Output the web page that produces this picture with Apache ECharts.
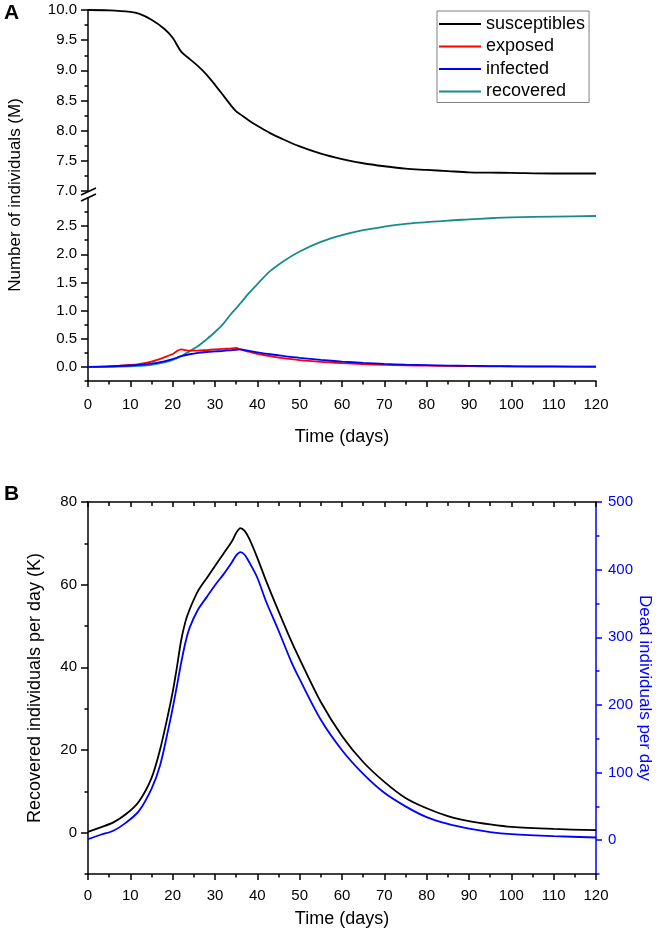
<!DOCTYPE html>
<html><head><meta charset="utf-8">
<script src="https://cdn.jsdelivr.net/npm/echarts@6/dist/echarts.min.js"></script>
<style>html,body{margin:0;padding:0;background:#fff}#c{width:661px;height:936px}</style>
</head><body><div id="c"></div>
<script>
// ---- Panel A data (millions) ----
const daysA = [0,5,10,12,15,18,20,22,24,26,28,30,32,34,35,36,38,40,43,46,50,55,60,65,70,75,80,85,90,95,100,110,120];
const susceptibles = [10.00,9.995,9.97,9.94,9.84,9.69,9.54,9.31,9.19,9.07,8.93,8.76,8.58,8.40,8.32,8.27,8.17,8.08,7.96,7.86,7.74,7.62,7.53,7.46,7.41,7.37,7.35,7.33,7.31,7.305,7.30,7.29,7.29];
const exposed = [0,0.01,0.035,0.05,0.095,0.17,0.23,0.31,0.29,0.29,0.30,0.31,0.32,0.33,0.34,0.31,0.27,0.23,0.19,0.155,0.12,0.09,0.068,0.05,0.037,0.028,0.022,0.017,0.013,0.01,0.008,0.005,0.003];
const infected = [0,0.008,0.025,0.035,0.06,0.10,0.14,0.19,0.225,0.25,0.265,0.275,0.285,0.30,0.305,0.31,0.285,0.26,0.225,0.195,0.16,0.125,0.095,0.072,0.053,0.04,0.031,0.024,0.019,0.015,0.012,0.008,0.006];
const recovered = [0,0.003,0.012,0.018,0.035,0.08,0.125,0.19,0.28,0.37,0.49,0.62,0.77,0.96,1.04,1.13,1.31,1.47,1.70,1.87,2.05,2.22,2.34,2.43,2.49,2.54,2.57,2.60,2.62,2.64,2.655,2.67,2.68];

// ---- Panel B data ----
const daysB = [0,3,6,9,12,15,17,19,20,21,22,23,24,26,28,30,32,34,35,36,37,38,40,42,45,48,50,55,60,65,70,75,80,85,90,95,100,110,120];
const recoveredPerDayK = [0.2,1.3,2.5,4.5,7.5,13.2,20,29,34,40,46.5,51,54,58.5,61.5,64.5,67.5,70.5,72.5,73.7,73,71.3,66.5,61.1,53.6,46.4,42.0,31.6,23.4,17.1,12.3,8.4,5.9,4.0,2.8,2.0,1.4,0.9,0.6];
const deadPerDay = [1.5,8,14,26,43,76,110,165,195,228,262,292,314,341,359,377,393,411,421,426,422,412,388,354,310,264,238,178,133,98,70,50,34,24,17,12,9,6,4];

// ---- tick values ----
const lowerYTicks = [0,0.5,1.0,1.5,2.0,2.5];
const lowerYMinor = [-0.25,0.25,0.75,1.25,1.75,2.25,2.75];
const leftBTicks = [0,20,40,60,80];
const leftBMinor = [-10,10,30,50,70];
const rightBTicks = [0,100,200,300,400,500];
const rightBMinor = [-50,50,150,250,350,450];
const seriesNames = ['susceptibles','exposed','infected','recovered'];

const FONT = 'Liberation Sans, Arial, sans-serif';
const BLUE = '#0000ff';
const TEAL = '#178c8c';
const LW = 1.8;
function pairs(xs, ys){ return xs.map((x,i)=>[x, ys[i]]); }
function lineStyleAxis(c){ return {color:c||'#000', width:1.5}; }

function xAx(grid, opts){
  return Object.assign({
    type:'value', gridIndex:grid, min:0, max:120, interval:10,
    axisLine:{show:true, onZero:false, lineStyle:lineStyleAxis()},
    axisTick:{show:true, length:6, lineStyle:lineStyleAxis()},
    minorTick:{show:true, splitNumber:2, length:3.5, lineStyle:lineStyleAxis()},
    splitLine:{show:false}, minorSplitLine:{show:false},
    axisLabel:{fontSize:15, color:'#000', margin:14, fontFamily:FONT},
    nameMoveOverlap:false
  }, opts);
}
function yAx(grid, min, max, ticks, len, color, extra){
  return Object.assign({
    type:'value', gridIndex:grid, min:min, max:max,
    axisLine:{show:true, onZero:false, lineStyle:lineStyleAxis(color)},
    axisTick:{show:true, length:len, customValues:ticks, lineStyle:lineStyleAxis(color)},
    splitLine:{show:false},
    axisLabel:{show:true, customValues:ticks, fontSize:15, color:color||'#000', margin:11, fontFamily:FONT},
    nameMoveOverlap:false
  }, extra||{});
}
function minorY(grid, min, max, ticks, color, pos){
  return {
    type:'value', gridIndex:grid, min:min, max:max, position:pos,
    axisLine:{show:false, onZero:false},
    axisTick:{show:true, length:3.5, customValues:ticks, lineStyle:lineStyleAxis(color)},
    splitLine:{show:false},
    axisLabel:{show:false}
  };
}
function hiddenX(grid){ return {type:'value', gridIndex:grid, min:0, max:120, show:false}; }

const rectLowerA = {left:88, right:65, top:198, height:183, outerBoundsMode:'none'};
const rectB = {left:88, right:65, top:502, height:372, outerBoundsMode:'none'};

const chart = echarts.init(document.getElementById('c'), null, {renderer:'canvas'});
const option = {
  animation:false,
  backgroundColor:'#fff',
  textStyle:{fontFamily:FONT},
  grid:[
    {left:88, right:65, top:10, height:181, outerBoundsMode:'none'},
    rectLowerA,
    rectB,
    Object.assign({}, rectLowerA),
    Object.assign({}, rectB)
  ],
  legend:{
    data:seriesNames, orient:'vertical', left:437, top:11,
    icon:'rect', itemWidth:42, itemHeight:2, itemGap:2.5,
    padding:[3,4,1,2], borderColor:'#808080', borderWidth:1,
    textStyle:{fontSize:18, lineHeight:20, color:'#000', fontFamily:FONT},
    selectedMode:false
  },
  xAxis:[
    hiddenX(0),
    xAx(1, {position:'bottom', name:'Time (days)', nameLocation:'middle', nameGap:47,
      axisLabel:{fontSize:15, color:'#000', margin:16, fontFamily:FONT},
      nameTextStyle:{fontSize:18, color:'#000', fontFamily:FONT}}),
    xAx(2, {position:'bottom', name:'Time (days)', nameLocation:'middle', nameGap:36,
      nameTextStyle:{fontSize:18, color:'#000', fontFamily:FONT}}),
    xAx(2, {position:'top', axisLabel:{show:false},
      axisTick:{show:true, inside:true, length:5, lineStyle:lineStyleAxis()},
      minorTick:{show:true, splitNumber:2, length:4, lineStyle:lineStyleAxis()}}),
    hiddenX(3),
    hiddenX(4)
  ],
  yAxis:[
    // upper panel A: 7.0 - 10.0
    {type:'value', gridIndex:0, min:7, max:10, interval:0.5,
      axisLine:{show:true, onZero:false, lineStyle:lineStyleAxis()},
      axisTick:{show:true, length:7, lineStyle:lineStyleAxis()},
      minorTick:{show:true, splitNumber:2, length:3.5, lineStyle:lineStyleAxis()},
      splitLine:{show:false}, minorSplitLine:{show:false},
      axisLabel:{fontSize:15, color:'#000', margin:11, fontFamily:FONT, formatter:v=>v.toFixed(1)}},
    // lower panel A
    yAx(1, -0.25, 3.0, lowerYTicks, 7, '#000', {position:'left',
      axisLabel:{customValues:lowerYTicks, fontSize:15, color:'#000', margin:11, fontFamily:FONT, formatter:v=>v.toFixed(1)}}),
    // panel B left
    yAx(2, -10, 80, leftBTicks, 7, '#000', {position:'left', name:'Recovered individuals per day (K)',
      nameLocation:'middle', nameGap:44, nameRotate:90,
      nameTextStyle:{fontSize:18, color:'#000', fontFamily:FONT}}),
    // panel B right
    yAx(2, -50, 500, rightBTicks, 6, BLUE, {position:'right', name:'Dead individuals per day',
      nameLocation:'middle', nameGap:40, nameRotate:-90,
      axisLabel:{customValues:rightBTicks, fontSize:15, color:BLUE, margin:12, fontFamily:FONT},
      nameTextStyle:{fontSize:17, color:BLUE, fontFamily:FONT}}),
    // minor tick overlays (own grids with identical rects)
    minorY(3, -0.25, 3.0, lowerYMinor, '#000', 'left'),
    minorY(4, -10, 80, leftBMinor, '#000', 'left'),
    minorY(4, -50, 500, rightBMinor, BLUE, 'right')
  ],
  series:[
    {name:'susceptibles', type:'line', xAxisIndex:0, yAxisIndex:0, data:pairs(daysA, susceptibles),
      showSymbol:false, smooth:0.3, color:'#000', lineStyle:{color:'#000', width:LW}},
    {name:'recovered', type:'line', xAxisIndex:1, yAxisIndex:1, data:pairs(daysA, recovered),
      showSymbol:false, smooth:0.3, color:TEAL, lineStyle:{color:TEAL, width:LW}},
    {name:'exposed', type:'line', xAxisIndex:1, yAxisIndex:1, data:pairs(daysA, exposed),
      showSymbol:false, smooth:0.3, color:'#ff0000', lineStyle:{color:'#ff0000', width:LW}},
    {name:'infected', type:'line', xAxisIndex:1, yAxisIndex:1, data:pairs(daysA, infected),
      showSymbol:false, smooth:0.3, color:BLUE, lineStyle:{color:BLUE, width:LW}},
    {name:'Recovered per day', type:'line', xAxisIndex:2, yAxisIndex:2, data:pairs(daysB, recoveredPerDayK),
      showSymbol:false, smooth:0.3, color:'#000', lineStyle:{color:'#000', width:LW}},
    {name:'Dead per day', type:'line', xAxisIndex:2, yAxisIndex:3, data:pairs(daysB, deadPerDay),
      showSymbol:false, smooth:0.3, color:BLUE, lineStyle:{color:BLUE, width:LW}}
  ],
  graphic:[
    {type:'text', left:4, top:3, style:{text:'A', fontSize:21, fontWeight:'bold', fill:'#000', fontFamily:FONT}},
    {type:'text', left:4, top:484, style:{text:'B', fontSize:21, fontWeight:'bold', fill:'#000', fontFamily:FONT}},
    {type:'text', x:15, y:195, rotation:Math.PI/2,
      style:{text:'Number of individuals (M)', fontSize:17, fill:'#000', fontFamily:FONT, align:'center', verticalAlign:'middle'}},
    {type:'line', shape:{x1:81, y1:195, x2:96, y2:188}, style:{stroke:'#000', lineWidth:1.5}},
    {type:'line', shape:{x1:81, y1:201, x2:96, y2:194}, style:{stroke:'#000', lineWidth:1.5}}
  ]
};
chart.setOption(option);
</script>
</body></html>
